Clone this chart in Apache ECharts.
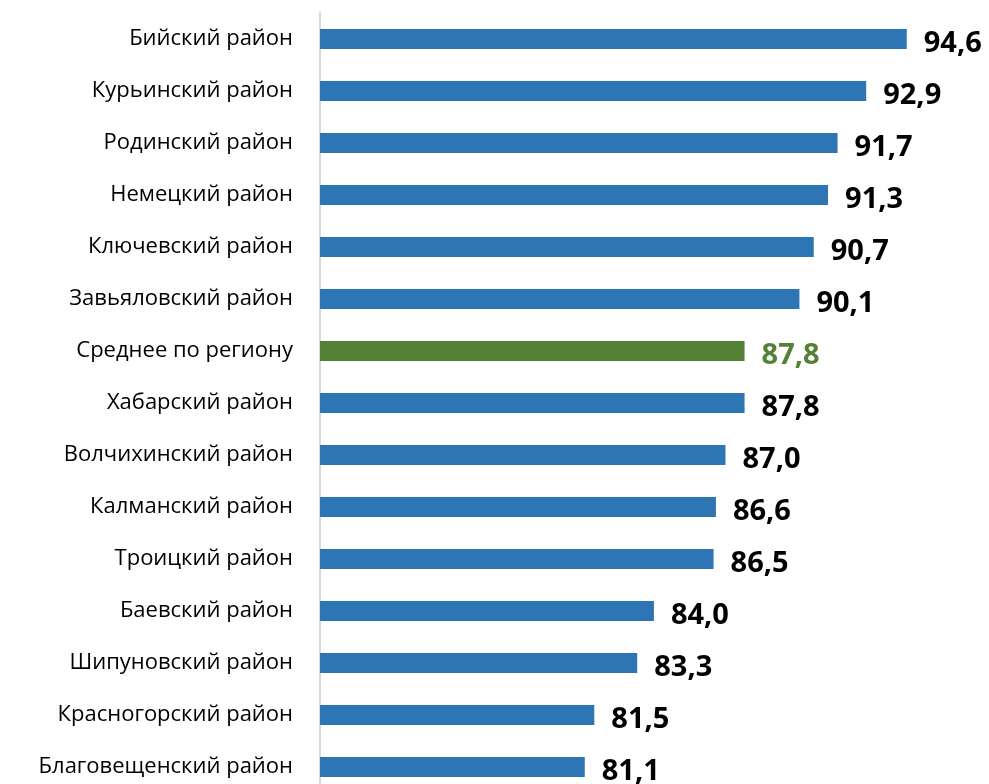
<!DOCTYPE html>
<html>
<head>
<meta charset="utf-8">
<script src="https://cdn.jsdelivr.net/npm/echarts@6/dist/echarts.min.js"></script>
<style>
  html, body { margin: 0; padding: 0; background: #fff; }
  #chart { width: 989px; height: 784px; }
</style>
</head>
<body>
<div id="chart"></div>
<script>
// районы сверху вниз
const districts = [
  'Бийский район', 'Курьинский район', 'Родинский район', 'Немецкий район',
  'Ключевский район', 'Завьяловский район', 'Среднее по региону', 'Хабарский район',
  'Волчихинский район', 'Калманский район', 'Троицкий район', 'Баевский район',
  'Шипуновский район', 'Красногорский район', 'Благовещенский район'
];
const values = [94.6, 92.9, 91.7, 91.3, 90.7, 90.1, 87.8, 87.8, 87.0, 86.6, 86.5, 84.0, 83.3, 81.5, 81.1];
const avgLabel = 'Среднее по региону';

const BLUE = '#2e75b6';
const GREEN = '#548235';

const chart = echarts.init(document.getElementById('chart'));

const seriesData = values.map((v, i) => {
  const isAvg = districts[i] === avgLabel;
  return {
    value: v,
    itemStyle: { color: isAvg ? GREEN : BLUE },
    label: { color: isAvg ? GREEN : '#000' }
  };
});

chart.setOption({
  animation: false,
  grid: { left: 320, top: 13, width: 644, height: 780, outerBoundsMode: 'none' },
  xAxis: {
    type: 'value',
    min: 70,
    max: 97,
    show: false
  },
  yAxis: {
    type: 'category',
    inverse: true,
    data: districts,
    axisLine: { show: true, lineStyle: { color: '#d9d9d9', width: 2 } },
    axisTick: { show: false },
    axisLabel: {
      margin: 27,
      padding: [3, 0, 0, 0],
      fontFamily: 'Open Sans',
      fontSize: 22,
      color: '#000'
    }
  },
  series: [{
    type: 'bar',
    data: seriesData,
    barWidth: 20,
    label: {
      show: true,
      position: 'right',
      distance: 17,
      offset: [0, 5],
      fontFamily: 'Open Sans',
      fontWeight: 'bold',
      fontSize: 29,
      formatter: p => p.value.toFixed(1).replace('.', ',')
    }
  }]
});
</script>
</body>
</html>
